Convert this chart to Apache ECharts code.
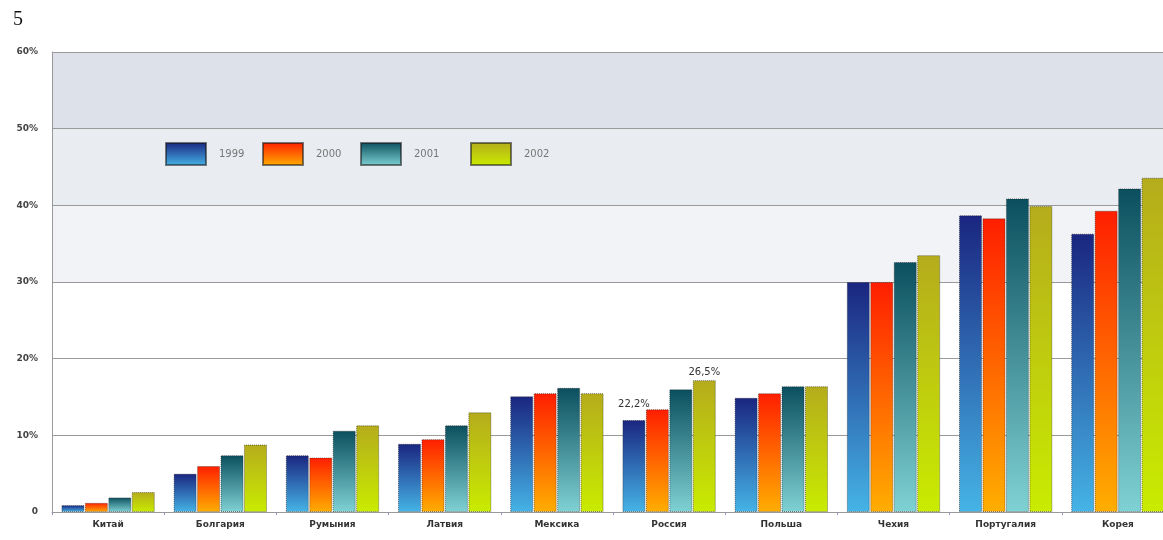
<!DOCTYPE html>
<html>
<head>
<meta charset="utf-8">
<script src="https://cdn.jsdelivr.net/npm/echarts@6/dist/echarts.min.js"></script>
<style>
  html, body { margin: 0; padding: 0; background: #fff; }
  #chart { width: 1163px; height: 540px; }
</style>
</head>
<body>
<div id="chart"></div>
<script>
var countries = ['Китай', 'Болгария', 'Румыния', 'Латвия', 'Мексика', 'Россия', 'Польша', 'Чехия', 'Португалия', 'Корея'];
var years = ['1999', '2000', '2001', '2002'];

var v1999 = [0.9, 5.0, 7.4, 8.9, 15.1, 12.0, 14.9, 30.0, 38.7, 36.3];
var v2000 = [1.2, 6.0, 7.1, 9.5, 15.5, 13.4, 15.5, 30.0, 38.3, 39.3];
var v2001 = [1.9, 7.4, 10.6, 11.3, 16.2, 16.0, 16.4, 32.6, 40.9, 42.2];
var v2002 = [2.6, 8.8, 11.3, 13.0, 15.5, 17.2, 16.4, 33.5, 39.9, 43.6];

// подписи над столбцами России
var labels1999 = [null, null, null, null, null, '22,2%', null, null, null, null];
var labels2002 = [null, null, null, null, null, '26,5%', null, null, null, null];

var yTicks = ['0', '10%', '20%', '30%', '40%', '50%', '60%'];

function grad(top, bottom) {
    return new echarts.graphic.LinearGradient(0, 0, 0, 1, [
        { offset: 0, color: top },
        { offset: 1, color: bottom }
    ]);
}

var colors = [
    grad('#1a2580', '#45b4e6'),
    grad('#ff1e00', '#ffae00'),
    grad('#0b4f5e', '#7fd2d4'),
    grad('#b5ac1c', '#c9ec00')
];

function withLabels(values, texts, dist) {
    return values.map(function (v, i) {
        if (!texts || !texts[i]) return v;
        return {
            value: v,
            label: {
                show: true,
                position: 'top',
                distance: dist,
                formatter: texts[i],
                fontFamily: 'DejaVu Sans',
                fontSize: 10,
                color: '#333'
            }
        };
    });
}

var allValues = [v1999, v2000, v2001, v2002];
var allLabels = [labels1999, null, null, labels2002];
var labelDist = [11, 0, 0, 3];

var series = years.map(function (y, k) {
    return {
        name: y,
        type: 'bar',
        barWidth: 23,
        barGap: '2%',
        itemStyle: {
            color: colors[k],
            borderColor: 'rgba(20,20,20,0.55)',
            borderWidth: 1,
            borderType: 'dotted'
        },
        data: withLabels(allValues[k], allLabels[k], labelDist[k])
    };
});

var legendLeft = [165, 262, 360, 470];
var legends = years.map(function (y, k) {
    return {
        data: [y],
        left: legendLeft[k],
        top: 142,
        padding: 0,
        itemWidth: 40,
        itemHeight: 22,
        icon: 'rect',
        selectedMode: false,
        textStyle: {
            fontFamily: 'DejaVu Sans',
            fontSize: 10,
            color: '#777',
            padding: [0, 0, 0, 8]
        }
    };
});

var chart = echarts.init(document.getElementById('chart'), null, { renderer: 'canvas' });

chart.setOption({
    animation: false,
    backgroundColor: '#fff',
    graphic: [{
        type: 'text',
        left: 13,
        top: 10,
        style: {
            text: '5',
            font: '20px "Liberation Serif"',
            fill: '#111'
        }
    }],
    legend: legends,
    grid: {
        left: 52,
        width: 1122,
        top: 52,
        bottom: 28,
        outerBoundsMode: 'none'
    },
    xAxis: {
        type: 'category',
        data: countries,
        axisLine: { lineStyle: { color: '#999' } },
        axisTick: { show: true, length: 3, lineStyle: { color: '#9a8fc0' } },
        axisLabel: {
            margin: 8,
            fontFamily: 'DejaVu Sans',
            fontWeight: 'bold',
            fontSize: 9,
            color: '#333'
        }
    },
    yAxis: {
        type: 'value',
        min: 0,
        max: 60,
        interval: 10,
        axisLine: { show: true, lineStyle: { color: '#999' } },
        axisTick: { show: false },
        axisLabel: {
            margin: 14,
            fontFamily: 'DejaVu Sans',
            fontWeight: 'bold',
            fontSize: 9,
            color: '#444',
            formatter: function (v) { return yTicks[v / 10]; }
        },
        splitLine: { show: true, lineStyle: { color: '#9a9a9a', width: 1 } },
        splitArea: {
            show: true,
            areaStyle: {
                color: ['#ffffff', '#ffffff', '#ffffff', '#f1f3f6', '#e9ecf1', '#dde2ea']
            }
        }
    },
    series: series
});
</script>
</body>
</html>
